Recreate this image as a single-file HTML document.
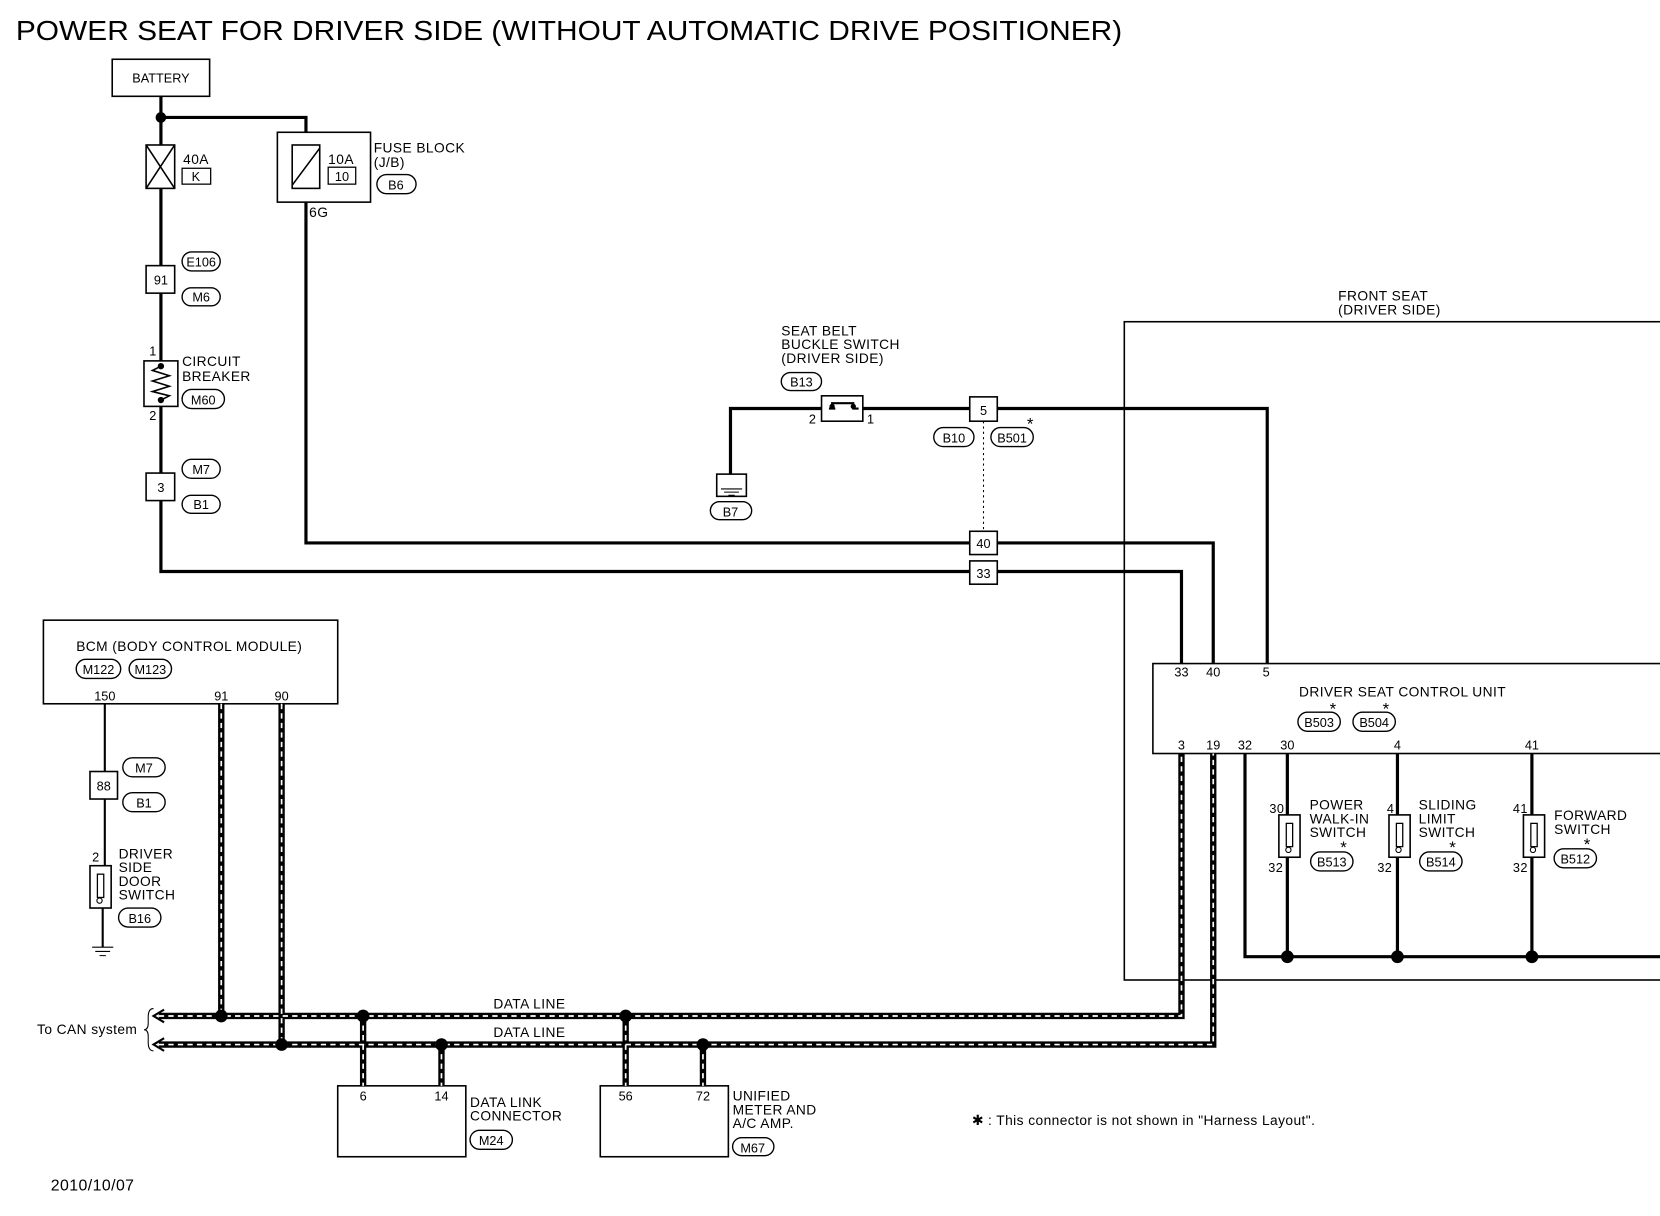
<!DOCTYPE html>
<html><head><meta charset="utf-8"><style>
html,body{margin:0;padding:0;background:#fff}
svg{display:block}
text{font-family:"Liberation Sans",sans-serif;fill:#000}
.s{font-size:13px;letter-spacing:0.4px}
.p{font-size:12px}
</style></head><body>
<svg width="1660" height="1216" viewBox="0 0 1568 1149" preserveAspectRatio="none" xmlns="http://www.w3.org/2000/svg">
<defs>
<g id="sw"><rect x="-10" y="-20" width="20" height="40" fill="#fff" stroke="#000" stroke-width="1.5"/><rect x="-3" y="-12" width="6" height="22" fill="none" stroke="#000" stroke-width="1.2"/><circle cx="-1" cy="13" r="2.5" fill="#fff" stroke="#000"/></g>
</defs>
<text x="15" y="38" style="font-size:26px" textLength="1045" lengthAdjust="spacingAndGlyphs">POWER SEAT FOR DRIVER SIDE (WITHOUT AUTOMATIC DRIVE POSITIONER)</text>

<g fill="none" stroke="#000" stroke-width="3">
<path d="M152 91V137M152 111H289V137M152 178V251M152 277V341M152 384V447M152 473V540H1116V627"/>
<path d="M289 178V513H1146V627"/>
<path d="M690 469V386H776M815 386H916M942 386H1197V627"/>
<path d="M1176 712V904H1568M1216 712V770M1216 810V904M1320 712V770M1320 810V904M1447 712V770M1447 810V904"/>
<path d="M99 665V729M99 755V818M97 858V895" stroke-width="2"/>
</g>
<g fill="#fff" stroke="#000" stroke-width="1.5">
<rect x="106" y="56" width="92" height="35"/>
<rect x="138" y="137" width="27" height="41"/>
<rect x="262" y="125" width="88" height="66"/>
<rect x="276" y="137" width="26" height="41"/>
<rect x="138" y="251" width="27" height="26"/>
<rect x="136" y="341" width="32" height="43"/>
<rect x="138" y="447" width="27" height="26"/>
<rect x="916" y="375" width="26" height="23"/>
<rect x="916" y="502" width="26" height="22"/>
<rect x="916" y="530" width="26" height="22"/>
<rect x="776" y="374" width="39" height="24"/>
<rect x="677" y="448" width="28" height="21"/>
<rect x="1062" y="304" width="520" height="622" fill="none"/>
<rect x="1089" y="627" width="490" height="85"/>
<rect x="41" y="586" width="278" height="79"/>
<rect x="85" y="729" width="26" height="26"/>
<rect x="319" y="1026" width="121" height="67"/>
<rect x="567" y="1026" width="121" height="67"/>
<rect x="172" y="159" width="27" height="15" stroke-width="1.2"/>
<rect x="310" y="158" width="26" height="16" stroke-width="1.2"/>
</g>
<path d="M138 137L165 178M165 137L138 178M302 140L276 175" stroke="#000" stroke-width="1.5"/>
<path d="M152 346l-8 4 16 5-16 5 16 5-16 5 16 4-8 4" fill="none" stroke="#000" stroke-width="1.5"/>
<circle cx="152" cy="346" r="3"/><circle cx="152" cy="378" r="3"/>
<path d="M783 386h6M805 386h6M785 381h22" stroke="#000" stroke-width="2"/>
<circle cx="786" cy="384" r="2.5"/><circle cx="806" cy="384" r="2.5"/>
<path d="M681 462h20M684 465h14M688 468h6" stroke="#000"/>
<path d="M929 398V502" stroke="#000" stroke-dasharray="2 3"/>
<circle cx="152" cy="111" r="5"/>
<use href="#sw" x="1218" y="790"/><use href="#sw" x="1322" y="790"/><use href="#sw" x="1449" y="790"/>
<use href="#sw" x="95" y="838"/>
<path d="M87 895h20M90 899h14M94 903h6" stroke="#000"/>
<circle cx="1216" cy="904" r="6"/><circle cx="1320" cy="904" r="6"/><circle cx="1447" cy="904" r="6"/>

<g fill="none" stroke="#000" stroke-width="6">
<path d="M150 960H1116V712M150 987H1146V712M209 665V960M266 665V987M343 960V1026M417 987V1026M591 960V1026M664 987V1026"/>
</g>
<g fill="none" stroke="#fff" stroke-width="1.6" stroke-dasharray="5 4">
<path d="M150 960H1116V712M150 987H1146V712M209 665V960M266 665V987M343 960V1026M417 987V1026M591 960V1026M664 987V1026"/>
</g>
<path d="M155 954L145 960L155 966M155 981L145 987L155 993" fill="none" stroke="#000" stroke-width="2"/>
<path d="M145 953q-5 0-5 8v6q0 6-4 6q4 0 4 6v6q0 8 5 8" fill="none" stroke="#000"/>
<g><circle cx="209" cy="960" r="6"/><circle cx="343" cy="960" r="6"/><circle cx="591" cy="960" r="6"/><circle cx="266" cy="987" r="6"/><circle cx="417" cy="987" r="6"/><circle cx="664" cy="987" r="6"/></g>

<g fill="#fff" stroke="#000" stroke-width="1.3">
<rect x="172" y="238" width="36" height="18" rx="9"/><rect x="172" y="272" width="36" height="17" rx="8.5"/>
<rect x="172" y="368" width="40" height="18" rx="9"/><rect x="172" y="434" width="36" height="18" rx="9"/>
<rect x="172" y="468" width="36" height="17" rx="8.5"/><rect x="356" y="165" width="37" height="18" rx="9"/>
<rect x="738" y="352" width="38" height="17" rx="8.5"/><rect x="882" y="404" width="38" height="18" rx="9"/>
<rect x="936" y="404" width="40" height="18" rx="9"/><rect x="671" y="474" width="39" height="17" rx="8.5"/>
<rect x="1226" y="673" width="40" height="18" rx="9"/><rect x="1278" y="673" width="40" height="18" rx="9"/>
<rect x="1238" y="805" width="40" height="18" rx="9"/><rect x="1341" y="805" width="40" height="18" rx="9"/>
<rect x="1468" y="802" width="40" height="18" rx="9"/>
<rect x="72" y="623" width="42" height="18" rx="9"/><rect x="122" y="623" width="40" height="18" rx="9"/>
<rect x="116" y="716" width="40" height="18" rx="9"/><rect x="116" y="749" width="40" height="18" rx="9"/>
<rect x="112" y="858" width="40" height="18" rx="9"/><rect x="444" y="1068" width="40" height="18" rx="9"/>
<rect x="692" y="1075" width="39" height="17" rx="8.5"/>
</g>
<g class="p" text-anchor="middle">
<text x="152" y="78">BATTERY</text><text x="185" y="171">K</text><text x="323" y="171">10</text>
<text x="190" y="252">E106</text><text x="190" y="285">M6</text><text x="152" y="269">91</text>
<text x="192" y="382">M60</text><text x="190" y="448">M7</text><text x="190" y="481">B1</text><text x="152" y="465">3</text>
<text x="374" y="179">B6</text><text x="757" y="365">B13</text><text x="901" y="418">B10</text><text x="956" y="418">B501</text>
<text x="690" y="488">B7</text><text x="929" y="392">5</text><text x="929" y="518">40</text><text x="929" y="546">33</text>
<text x="1246" y="687">B503</text><text x="1298" y="687">B504</text>
<text x="1258" y="819">B513</text><text x="1361" y="819">B514</text><text x="1488" y="816">B512</text>
<text x="93" y="637">M122</text><text x="142" y="637">M123</text><text x="136" y="730">M7</text><text x="136" y="763">B1</text>
<text x="98" y="747">88</text><text x="132" y="872">B16</text><text x="464" y="1082">M24</text><text x="711" y="1089">M67</text>
<text x="1116" y="639">33</text><text x="1146" y="639">40</text><text x="1196" y="639">5</text>
<text x="1116" y="708">3</text><text x="1146" y="708">19</text><text x="1176" y="708">32</text><text x="1216" y="708">30</text><text x="1320" y="708">4</text><text x="1447" y="708">41</text>
<text x="99" y="662">150</text><text x="209" y="662">91</text><text x="266" y="662">90</text>
<text x="343" y="1040">6</text><text x="417" y="1040">14</text><text x="591" y="1040">56</text><text x="664" y="1040">72</text>
</g>
<g class="s">
<text x="173" y="155">40A</text><text x="310" y="155">10A</text>
<text x="353" y="144">FUSE BLOCK</text><text x="353" y="158">(J/B)</text><text x="292" y="205">6G</text>
<text x="141" y="336" class="p">1</text><text x="141" y="397" class="p">2</text>
<text x="172" y="346">CIRCUIT</text><text x="172" y="360">BREAKER</text>
<text x="738" y="317">SEAT BELT</text><text x="738" y="330">BUCKLE SWITCH</text><text x="738" y="343">(DRIVER SIDE)</text>
<text x="764" y="400" class="p">2</text><text x="819" y="400" class="p">1</text>
<text x="970" y="406" style="font-size:16px">*</text>
<text x="1264" y="284">FRONT SEAT</text><text x="1264" y="297">(DRIVER SIDE)</text>
<text x="1227" y="658">DRIVER SEAT CONTROL UNIT</text>
<text x="1256" y="675" style="font-size:16px">*</text><text x="1306" y="675" style="font-size:16px">*</text>
<text x="1237" y="765">POWER</text><text x="1237" y="778">WALK-IN</text><text x="1237" y="791">SWITCH</text>
<text x="1340" y="765">SLIDING</text><text x="1340" y="778">LIMIT</text><text x="1340" y="791">SWITCH</text>
<text x="1468" y="775">FORWARD</text><text x="1468" y="788">SWITCH</text>
<text x="1266" y="806" style="font-size:16px">*</text><text x="1369" y="806" style="font-size:16px">*</text><text x="1496" y="803" style="font-size:16px">*</text>
<text x="1199" y="768" class="p">30</text><text x="1198" y="824" class="p">32</text>
<text x="1310" y="768" class="p">4</text><text x="1301" y="824" class="p">32</text>
<text x="1429" y="768" class="p">41</text><text x="1429" y="824" class="p">32</text>
<text x="72" y="615">BCM (BODY CONTROL MODULE)</text>
<text x="112" y="811">DRIVER</text><text x="112" y="824">SIDE</text><text x="112" y="837">DOOR</text><text x="112" y="850">SWITCH</text>
<text x="87" y="814" class="p">2</text>
<text x="35" y="977">To CAN system</text>
<text x="466" y="953">DATA LINE</text><text x="466" y="980">DATA LINE</text>
<text x="444" y="1046">DATA LINK</text><text x="444" y="1059">CONNECTOR</text>
<text x="692" y="1040">UNIFIED</text><text x="692" y="1053">METER AND</text><text x="692" y="1066">A/C AMP.</text>
<text x="918" y="1063">✱ : This connector is not shown in "Harness Layout".</text>
<text x="48" y="1125" style="font-size:15px">2010/10/07</text>
</g>
</svg>
</body></html>
